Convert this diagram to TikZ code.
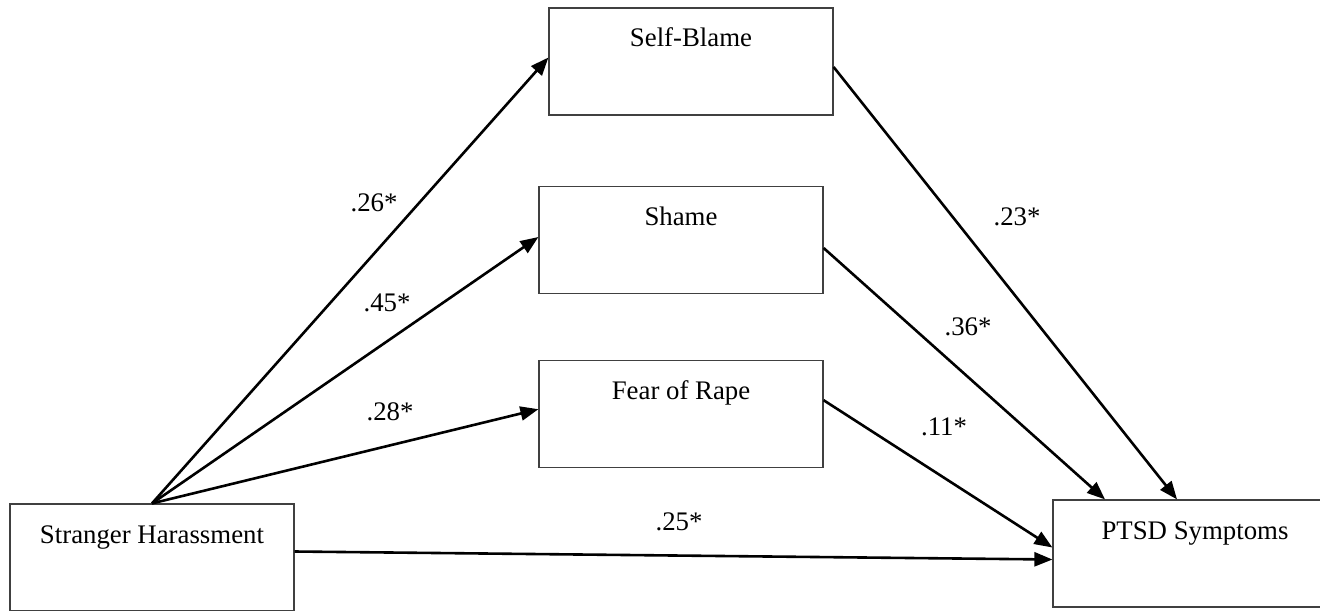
\documentclass[tikz,border=0pt]{standalone}
\usepackage{fontspec}
\setmainfont{Liberation Serif}
\usetikzlibrary{arrows.meta,positioning}

\begin{document}
\begin{tikzpicture}[x=0.5pt, y=-0.5pt, font=\fontsize{13.4}{16}\selectfont, every node/.style={inner sep=0pt}]
        \tikzset{
            box/.style={draw=black!75, line width=0.6pt, minimum width=142pt, text height=19.5pt, text depth=34pt},
            arr/.style={-{Triangle[length=9pt, width=7pt]}, line width=1.3pt},
            coef/.style={anchor=center}
        }
        \useasboundingbox (0,0) rectangle (1320,610);
        \node[box] (harass) at (152,557.5) {Stranger Harassment};
        \node[box] (blame) at (691,61.5) {Self-Blame};
        \node[box] (shame) at (681,240) {Shame};
        \node[box, below=33pt of shame] (fear) {Fear of Rape};
        \node[box] (ptsd) at (1195,553.5) {PTSD Symptoms};
        % paths from stranger harassment
        \draw[arr] (harass.north) -- ([yshift=2pt]blame.west);
        \draw[arr] (harass.north) -- ([yshift=1.5pt]shame.west);
        \draw[arr] (harass.north) -- ([yshift=2.5pt]fear.west);
        \draw[arr] ([yshift=3pt]harass.east) -- ([yshift=-3pt]ptsd.west);
        % paths into ptsd
        \draw[arr] ([yshift=-2.75pt]blame.east) -- ([xshift=-9pt]ptsd.north);
        \draw[arr] ([yshift=-4pt]shame.east) -- ([xshift=-45pt]ptsd.north);
        \draw[arr] ([yshift=7pt]fear.east) -- ([yshift=3pt]ptsd.west);
        % coefficients
        \node[coef] (cHB) at (374,203) {.26*};
        \node[coef] (cHS) at (387,303) {.45*};
        \node[coef] (cHF) at (390,412) {.28*};
        \node[coef] (cHP) at (679,522) {.25*};
        \node[coef] (cBP) at (1017,217) {.23*};
        \node[coef] (cSP) at (968,327) {.36*};
        \node[coef] (cFP) at (944,427) {.11*};
    \end{tikzpicture}
\end{document}
